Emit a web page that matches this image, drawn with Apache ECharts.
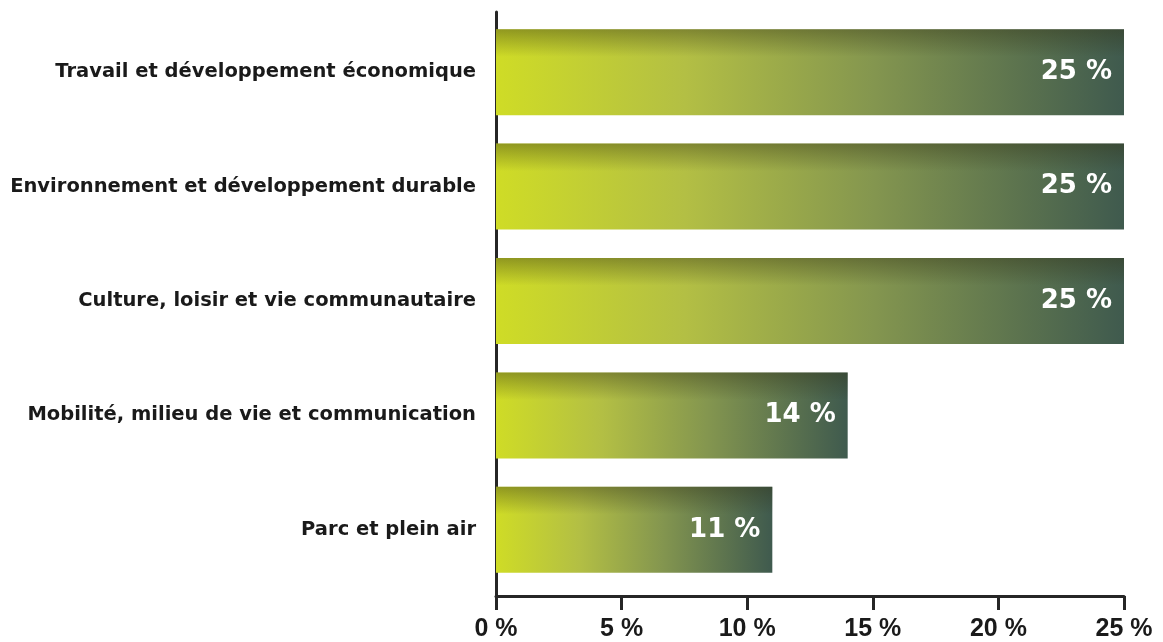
<!DOCTYPE html>
<html>
<head>
<meta charset="utf-8">
<script src="https://cdn.jsdelivr.net/npm/echarts@6/dist/echarts.min.js"></script>
<style>
  html, body { margin: 0; padding: 0; background: #fff; }
  #chart { width: 1163px; height: 642px; }
</style>
</head>
<body>
<div id="chart"></div>
<script>
const categories = [
  'Travail et développement économique',
  'Environnement et développement durable',
  'Culture, loisir et vie communautaire',
  'Mobilité, milieu de vie et communication',
  'Parc et plein air'
]
const values = [25, 25, 25, 14, 11]
const axisMax = 25
const axisStep = 5

const chart = echarts.init(document.getElementById('chart'))

const option = {
  animation: false,
  grid: [
    // bars
    { left: 496, right: 39, top: 15, height: 572 },
    // axis frame (a bit taller than the bar area)
    { left: 496, right: 39, top: 12, bottom: 44 }
  ],
  xAxis: [
    { gridIndex: 0, type: 'value', min: 0, max: axisMax, show: false },
    {
      gridIndex: 1, type: 'value', min: 0, max: axisMax, interval: axisStep,
      axisLine: { show: true, lineStyle: { color: '#262626', width: 3 } },
      axisTick: { show: true, length: 14, lineStyle: { color: '#262626', width: 3 } },
      splitLine: { show: false },
      axisLabel: {
        margin: 21,
        color: '#1a1a1a',
        fontFamily: 'Liberation Sans',
        fontWeight: 'bold',
        fontSize: 25,
        formatter: v => v + ' %'
      }
    }
  ],
  yAxis: [
    {
      gridIndex: 0, type: 'category', data: categories, inverse: true,
      axisLine: { show: false },
      axisTick: { show: false },
      axisLabel: {
        margin: 20,
        color: '#1a1a1a',
        fontFamily: 'DejaVu Sans',
        fontWeight: 'bold',
        fontSize: 19.5
      }
    },
    {
      gridIndex: 1, type: 'value', min: 0, max: 1,
      axisLine: { show: true, lineStyle: { color: '#262626', width: 3 } },
      axisTick: { show: false },
      axisLabel: { show: false },
      splitLine: { show: false }
    }
  ],
  series: [
    {
      type: 'bar',
      xAxisIndex: 0,
      yAxisIndex: 0,
      data: values,
      barWidth: 86,
      itemStyle: {
        color: new echarts.graphic.LinearGradient(0, 0, 1, 0, [
          { offset: 0, color: '#cfdc26' },
          { offset: 0.3, color: '#b3bf44' },
          { offset: 0.6, color: '#84964f' },
          { offset: 1, color: '#3f5a4e' }
        ])
      }
    },
    {
      // top shading on each bar
      type: 'bar',
      xAxisIndex: 0,
      yAxisIndex: 0,
      data: values,
      barWidth: 86,
      barGap: '-100%',
      itemStyle: {
        color: new echarts.graphic.LinearGradient(0, 0, 0, 1, [
          { offset: 0, color: 'rgba(50,50,20,0.4)' },
          { offset: 0.32, color: 'rgba(50,50,20,0.0)' },
          { offset: 1, color: 'rgba(50,50,20,0.0)' }
        ])
      },
      label: {
        show: true,
        position: 'insideRight',
        distance: 12,
        color: '#ffffff',
        fontFamily: 'DejaVu Sans',
        fontWeight: 'bold',
        fontSize: 26,
        formatter: p => p.value + ' %'
      }
    }
  ]
}

chart.setOption(option)
</script>
</body>
</html>
